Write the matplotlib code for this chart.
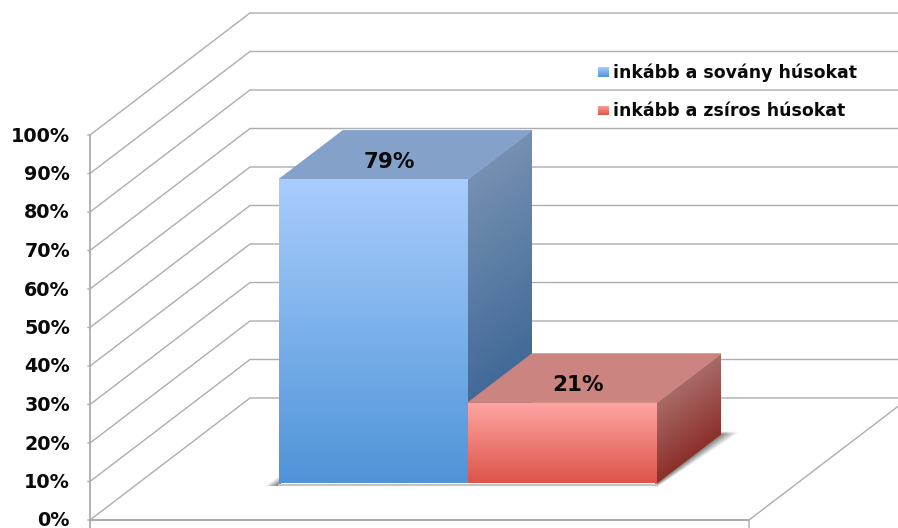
import numpy as np
import matplotlib
matplotlib.use("Agg")
import matplotlib.pyplot as plt
from matplotlib.colors import LinearSegmentedColormap
from matplotlib.patches import Polygon

series_names = ["inkább a sovány húsokat", "inkább a zsíros húsokat"]
series_values = [79, 21]
tick_values = [0, 10, 20, 30, 40, 50, 60, 70, 80, 90, 100]
value_labels = ["79%", "21%"]

front_colors = [("#a9cdfd", "#4f94d8"), ("#ffa6a3", "#dd5449")]
side_colors = [("#7590b2", "#305c8e"), ("#a96b68", "#8c302a")]
top_colors = ["#84a2c9", "#cc8480"]
grid_color = "#adadad"


# oblique projection: x along the floor, v = percent, d = depth 0..1
def project(x, v, d=0.0):
    return 90 + x + 160 * d, 520 - 3.85 * v - 122 * d


def gradient_face(ax, pts, c1, c2, shear=0.0, zorder=3):
    # top to bottom gradient clipped to the polygon, shear follows a slanted face
    pts = np.array(pts)
    x0, x1 = pts[:, 0].min(), pts[:, 0].max()
    y0, y1 = pts[:, 1].min(), pts[:, 1].max()
    yy, xx = np.mgrid[y0:y1:300j, x0:x1:200j]
    height = (y1 - y0) - shear * (x1 - x0)
    t = (yy - (y0 + shear * (x1 - xx))) / height
    cmap = LinearSegmentedColormap.from_list("face", [c1, c2])
    im = ax.imshow(t, extent=(x0, x1, y1, y0), cmap=cmap, vmin=0, vmax=1,
                   aspect="auto", zorder=zorder, interpolation="bilinear")
    clip = Polygon(pts, transform=ax.transData, facecolor="none", edgecolor="none")
    ax.add_patch(clip)
    im.set_clip_path(clip)


def soft_shadow(ax, x0, x1, y0, y1, alpha_fn, zorder=1):
    # grey image whose opacity comes from alpha_fn(px, py)
    yy, xx = np.mgrid[y0:y1:100j, x0:x1:100j]
    rgba = np.zeros((100, 100, 4))
    rgba[..., :3] = 0.42
    rgba[..., 3] = np.clip(alpha_fn(xx, yy), 0, 1)
    ax.imshow(rgba, extent=(x0, x1, y1, y0), aspect="auto", zorder=zorder,
              interpolation="bilinear")


def left_wedge(px, py):
    return 0.9 * np.clip((px - 266) / 13 + (py - 476) / 9 - 1, 0, 1)


def right_band(px, py):
    edge = 657 + (484 - py) * 64 / 49
    width = 5 + (484 - py) * 0.2
    fade = 1 - (px - edge) / width
    return 0.8 * np.clip(fade, 0, 1) * np.clip((py - 431) / 3, 0, 1) * np.clip((488 - py) / 4, 0, 1)


fig = plt.figure(figsize=(8.98, 5.28), dpi=100)
ax = fig.add_axes([0, 0, 1, 1])
ax.axis("off")
plt.rcParams["font.family"] = ["DejaVu Sans"]

# walls and floor
for v in tick_values:
    fx, fy = project(0, v, 0)
    bx, by = project(0, v, 1)
    ax.plot([fx - 2, fx, bx, 920], [fy, fy, by, by], color=grid_color, lw=1.0, zorder=1)
    ax.text(70, fy + 6.5, f"{v}%", ha="right", va="baseline", fontsize=13.8,
            fontweight="bold", color="#0a0a0a", zorder=6)

x_end = 659
ax.plot(*zip(project(0, 100, 0), (90, 530)), color=grid_color, lw=1.3, zorder=1)
ax.plot(*zip(project(0, 0, 0), project(x_end, 0, 0)), color=grid_color, lw=1.5, zorder=1)
ax.plot(*zip((749, 530), project(x_end, 0, 0), project(x_end, 0, 1)), color=grid_color, lw=1.0, zorder=1)

# bars
bar_w = 189
x_start = 141
d0, d1 = 0.3, 0.7

soft_shadow(ax, 262, 281, 474, 486, left_wedge, zorder=2)
soft_shadow(ax, 655, 740, 428, 489, right_band, zorder=2)
ax.plot([279, 657], [484.5, 484.5], color="#c4c4c4", lw=1.5, zorder=2)

for i, val in enumerate(series_values):
    xl = x_start + i * bar_w
    xr = xl + bar_w
    z = 3 + i
    front = [project(xl, 0, d0), project(xr, 0, d0), project(xr, val, d0), project(xl, val, d0)]
    side = [project(xr, 0, d0), project(xr, 0, d1), project(xr, val, d1), project(xr, val, d0)]
    top = [project(xl, val, d0), project(xr, val, d0), project(xr, val, d1), project(xl, val, d1)]
    gradient_face(ax, side, side_colors[i][0], side_colors[i][1], shear=49 / 64, zorder=z)
    ax.add_patch(Polygon(top, facecolor=top_colors[i], edgecolor=top_colors[i], lw=0.6, zorder=z + 0.2))
    gradient_face(ax, front, front_colors[i][0], front_colors[i][1], zorder=z + 0.5)
    lx, ly = project((xl + xr) / 2, val, (d0 + d1) / 2)
    ax.text(lx - 16, ly + 7, value_labels[i], ha="center", va="center", fontsize=15.5,
            fontweight="bold", color="#0a0a0a", zorder=6)

# legend
legend_y = [72, 110.5]
for i, name in enumerate(series_names):
    y = legend_y[i]
    square = [(598, y - 5), (609, y - 5), (609, y + 5), (598, y + 5)]
    gradient_face(ax, square, front_colors[i][0], front_colors[i][1], zorder=6)
    ax.text(613, y + 1, name, ha="left", va="center", fontsize=12.5,
            fontweight="bold", color="#0a0a0a", zorder=6)

ax.set_xlim(0, 898)
ax.set_ylim(528, 0)
fig.savefig("out.png", dpi=100)
